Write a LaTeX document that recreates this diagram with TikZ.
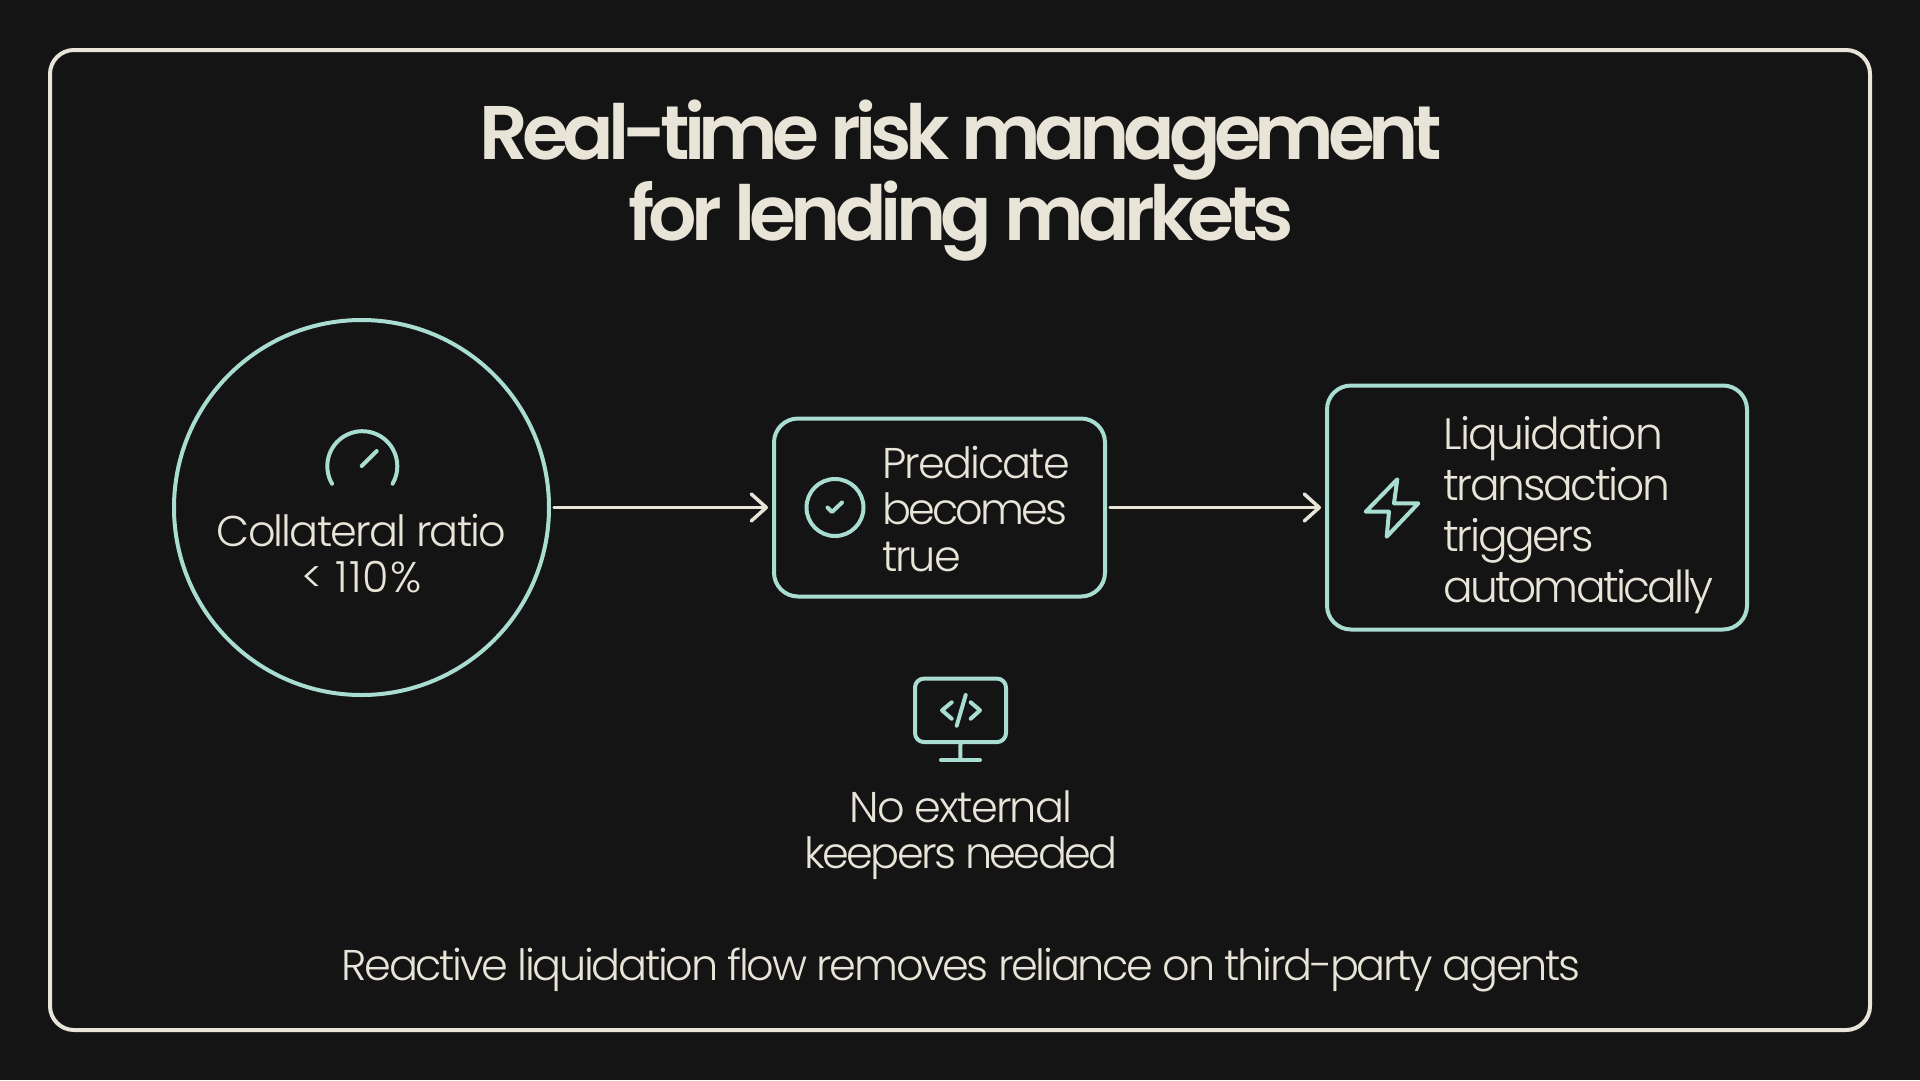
\documentclass[tikz,border=0pt]{standalone}
\usepackage{fontspec}
\setmainfont{Poppins Light}
\newfontfamily\titlefont{Poppins SemiBold}
\usetikzlibrary{arrows.meta}
\definecolor{bgc}{HTML}{141414}
\definecolor{cream}{HTML}{E9E4D8}
\definecolor{mint}{HTML}{A9DDD2}
\newcommand{\tracked}[2]{{\addfontfeature{LetterSpace=#1}#2}}
\tikzset{
  flowbox/.style={draw=mint,line width=4pt,rectangle,rounded corners=24pt,inner sep=0pt},
  flowarrow/.style={draw=cream,line width=3.5pt,line cap=round,-{Straight Barb[length=15pt,width=27pt,line width=3.5pt,round]},shorten <=3pt,shorten >=4pt},
  icon/.style={draw=mint,line width=4pt,line cap=round,line join=round},
  bodytext/.style={text=cream,inner sep=0pt,align=#1},
  bodytext/.default=center
}
\begin{document}
\begin{tikzpicture}[x=1pt,y=-1pt]
\useasboundingbox (0,0) rectangle (1920,1080);
\fill[bgc] (0,0) rectangle (1920,1080);
\node[draw=cream,line width=4pt,rounded corners=24pt,inner sep=0pt,minimum width=1820pt,minimum height=980pt] (frame) at (960,540) {};

\node[bodytext,font=\titlefont\fontsize{76}{81}\selectfont] (title) at (961,181) {\tracked{-8.3}{Real-time risk management}\\\tracked{-7.6}{for lending markets}};

\node[draw=mint,line width=4pt,circle,inner sep=0pt,minimum size=375pt] (circ) at (361.5,507.5) {};
\node[flowbox,minimum width=331pt,minimum height=178pt] (pred) at (939.5,507.5) {};
\node[flowbox,minimum width=420pt,minimum height=244pt] (liq) at (1537,507.5) {};

\draw[flowarrow] (circ.east) -- (pred.west);
\draw[flowarrow] (pred.east) -- (liq.west);

% gauge
\draw[icon] (332,483.7) arc[start angle=150,end angle=390,radius=35];
\coordinate (g1) at (361.7,466);
\coordinate (g2) at (376.7,451);
\draw[icon] (g1) -- (g2);

\node[bodytext,font=\fontsize{43}{46}\selectfont] (coll) at (361.5,554) {\tracked{-4.3}{Collateral ratio}\\\tracked{2}{< 110\%}};

% check
\node[draw=mint,line width=4pt,circle,inner sep=0pt,minimum size=57pt] (chk) at (835,507.5) {};
\draw[icon] (827.5,507.5) -- (832,512) -- (842,502.5);
\node[bodytext=left,font=\fontsize{43}{46.3}\selectfont,anchor=west] (predt) at (882,509) {\tracked{-4.4}{Predicate}\\\tracked{-6.8}{becomes}\\\tracked{-4.8}{true}};

% zap
\draw[icon] (1397.3,479.3) -- (1365.7,511.7) -- (1389,511.7) -- (1386.7,536.7) -- (1418.3,503.3) -- (1394,503.3) -- cycle;
\node[bodytext=left,font=\fontsize{44}{51}\selectfont,anchor=west] (liqt) at (1443,515) {\tracked{-4}{Liquidation}\\\tracked{-5.2}{transaction}\\\tracked{-5.2}{triggers}\\\tracked{-6.1}{automatically}};

% monitor
\node[icon,rectangle,rounded corners=9pt,inner sep=0pt,minimum width=91pt,minimum height=63.5pt] (mon) at (960.5,710.3) {};
\coordinate (base) at (960.3,760);
\coordinate (bl) at (941,760);
\coordinate (br) at (980,760);
\draw[icon] (mon.south) -- (base);
\draw[icon] (bl) -- (br);
\draw[icon] (951.7,702.3) -- (942,710.3) -- (951.7,718.7);
\draw[icon] (970.7,702.3) -- (980,710.3) -- (970.7,718.7);
\draw[icon] (965.7,695) -- (956.7,725.7);

\node[bodytext,font=\fontsize{43}{46}\selectfont] (keep) at (961,835) {\tracked{-4.3}{No external}\\\tracked{-6.1}{keepers needed}};
\node[bodytext,font=\fontsize{43}{46}\selectfont\addfontfeature{LetterSpace=-5.4}] (foot) at (961,969.5) {Reactive liquidation flow removes reliance on third-party agents};
\end{tikzpicture}
\end{document}
